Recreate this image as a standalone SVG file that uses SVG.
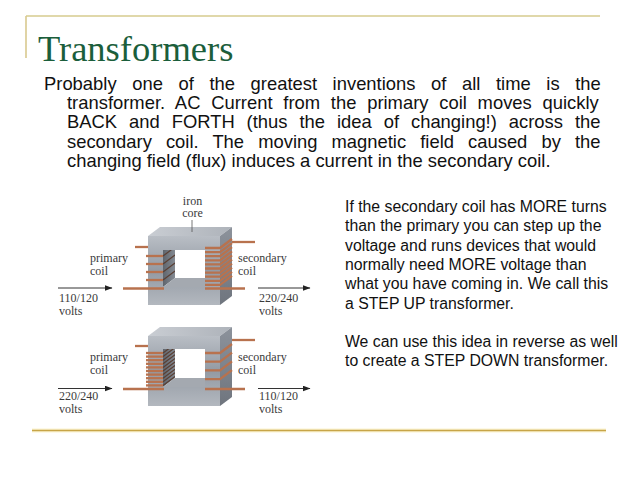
<svg xmlns="http://www.w3.org/2000/svg" width="638" height="479" viewBox="0 0 638 479">
<style>
.body{font-family:"Liberation Sans",Arial,sans-serif;font-size:18.4px;fill:#111}
.side{font-family:"Liberation Sans",Arial,sans-serif;font-size:15.8px;fill:#111}
.lab{font-family:"Liberation Serif","Times New Roman",serif;font-size:12px;fill:#3a3a3a}
.cu{stroke:#b8724e;stroke-width:2.3;fill:none}
.cud{stroke:#5a3f33;stroke-width:1.2;fill:none}
.arr{stroke:#333;stroke-width:1;fill:none}
</style>
<defs>
<linearGradient id="gFront" x1="0" y1="0" x2="0" y2="1">
<stop offset="0" stop-color="#b9bec5"/>
<stop offset="0.5" stop-color="#939aa3"/>
<stop offset="1" stop-color="#b3b8bf"/>
</linearGradient>
<linearGradient id="gTop" x1="0" y1="0" x2="1" y2="0">
<stop offset="0" stop-color="#c9cdd3"/>
<stop offset="1" stop-color="#aeb3ba"/>
</linearGradient>
<linearGradient id="gSide" x1="0" y1="0" x2="0" y2="1">
<stop offset="0" stop-color="#8c929b"/>
<stop offset="1" stop-color="#6f757e"/>
</linearGradient>
<linearGradient id="gWall" x1="0" y1="0" x2="1" y2="0">
<stop offset="0" stop-color="#5f656d"/>
<stop offset="1" stop-color="#858b93"/>
</linearGradient>
<marker id="ah" markerWidth="8" markerHeight="6" refX="7.5" refY="3" orient="auto" markerUnits="userSpaceOnUse">
<path d="M0,0 L8,3 L0,6 Z" fill="#222"/>
</marker>
<clipPath id="wallTop"><polygon points="163,250 175,250 175,278 163,287"/></clipPath>
<clipPath id="wallBot"><polygon points="163,349 175,349 175,378 163,387"/></clipPath>
</defs>
<rect width="638" height="479" fill="#fff"/>

<g id="frame">
<line x1="26" y1="16" x2="600" y2="16" stroke="#d6cb8e" stroke-width="1.6"/>
<line x1="26" y1="16" x2="26" y2="58" stroke="#d9c98f" stroke-width="1.6"/>
<line x1="32" y1="430.5" x2="606" y2="430.5" stroke="#fbf3cf" stroke-width="4"/>
<line x1="32" y1="430.5" x2="606" y2="430.5" stroke="#c7a548" stroke-width="1.6"/>
</g>

<g id="title">
<text x="38" y="61" font-family="'Liberation Serif','Times New Roman',serif" font-size="36.5" fill="#1b5e3b">Transformers</text>
</g>

<g id="body">
<text class="body" x="44" y="90" word-spacing="10.49">Probably one of the greatest inventions of all time is the</text>
<text class="body" x="67" y="109.2" word-spacing="5.66">transformer. AC Current from the primary coil moves quickly</text>
<text class="body" x="67" y="128.4" word-spacing="6.84">BACK and FORTH (thus the idea of changing!) across the</text>
<text class="body" x="67" y="147.6" word-spacing="8.97">secondary coil. The moving magnetic field caused by the</text>
<text class="body" x="67" y="166.8">changing field (flux) induces a current in the secondary coil.</text>
</g>

<g id="sidetext">
<text class="side" x="345" y="212">If the secondary coil has MORE turns</text>
<text class="side" x="345" y="231.3">than the primary you can step up the</text>
<text class="side" x="345" y="250.6">voltage and runs devices that would</text>
<text class="side" x="345" y="269.9">normally need MORE voltage than</text>
<text class="side" x="345" y="289.2">what you have coming in. We call this</text>
<text class="side" x="345" y="308.5">a STEP UP transformer.</text>
<text class="side" x="345" y="347">We can use this idea in reverse as well</text>
<text class="side" x="345" y="366.3">to create a STEP DOWN transformer.</text>
</g>

<g id="stepup">
<line class="cu" x1="135" y1="247" x2="150" y2="247"/>
<line class="cu" x1="230" y1="242" x2="255" y2="242"/>
<polygon points="148,236 160,227 232,227 220,236" fill="url(#gTop)"/>
<polygon points="220,236 232,227 232,296 220,305" fill="url(#gSide)"/>
<path d="M148,236 H220 V305 H148 Z M163,250 H205 V287 H163 Z" fill="url(#gFront)" fill-rule="evenodd"/>
<polygon points="163,250 175,250 175,278 163,287" fill="url(#gWall)"/>
<polygon points="163,287 175,278 205,278 205,287" fill="#a4a9b0"/>
<g clip-path="url(#wallTop)">
<line class="cud" x1="163" y1="256" x2="175" y2="247"/>
<line class="cud" x1="163" y1="264" x2="175" y2="255"/>
<line class="cud" x1="163" y1="272" x2="175" y2="263"/>
<line class="cud" x1="163" y1="280" x2="175" y2="271"/>
</g>
<line class="cu" x1="146" y1="256" x2="163" y2="256"/>
<line class="cu" x1="146" y1="264" x2="163" y2="264"/>
<line class="cu" x1="146" y1="272" x2="163" y2="272"/>
<line class="cu" x1="146" y1="280" x2="163" y2="280"/>
<line class="cu" x1="123" y1="288.5" x2="164" y2="288.5"/>
<g class="cu">
<path d="M205,248 H220 L232,239"/>
<path d="M205,252.1 H220 L232,243.1"/>
<path d="M205,256.2 H220 L232,247.2"/>
<path d="M205,260.3 H220 L232,251.3"/>
<path d="M205,264.4 H220 L232,255.4"/>
<path d="M205,268.5 H220 L232,259.5"/>
<path d="M205,272.6 H220 L232,263.6"/>
<path d="M205,276.7 H220 L232,267.7"/>
<path d="M205,280.8 H220 L232,271.8"/>
<path d="M205,284.9 H220 L232,275.9"/>
</g>
<line class="cu" x1="205" y1="288.5" x2="245" y2="288.5"/>
<line x1="192" y1="220" x2="192" y2="232" stroke="#555" stroke-width="0.8"/>
<text class="lab" x="192.5" y="204.5" text-anchor="middle">iron</text>
<text class="lab" x="192.5" y="217" text-anchor="middle">core</text>
<text class="lab" x="90" y="262">primary</text>
<text class="lab" x="90" y="274.5">coil</text>
<text class="lab" x="238" y="262">secondary</text>
<text class="lab" x="238" y="274.5">coil</text>
<text class="lab" x="59" y="302">110/120</text>
<text class="lab" x="59" y="314.5">volts</text>
<text class="lab" x="259" y="302">220/240</text>
<text class="lab" x="259" y="314.5">volts</text>
</g>

<g id="stepdown">
<line class="cu" x1="135" y1="346" x2="150" y2="346"/>
<line class="cu" x1="230" y1="340" x2="255" y2="340"/>
<polygon points="148,336 160,327 232,327 220,336" fill="url(#gTop)"/>
<polygon points="220,336 232,327 232,397 220,406" fill="url(#gSide)"/>
<path d="M148,336 H220 V406 H148 Z M163,349 H205 V387 H163 Z" fill="url(#gFront)" fill-rule="evenodd"/>
<polygon points="163,349 175,349 175,378 163,387" fill="url(#gWall)"/>
<polygon points="163,387 175,378 205,378 205,387" fill="#a4a9b0"/>
<g clip-path="url(#wallBot)" class="cud">
<line x1="163" y1="353" x2="175" y2="344"/>
<line x1="163" y1="356.6" x2="175" y2="347.6"/>
<line x1="163" y1="360.2" x2="175" y2="351.2"/>
<line x1="163" y1="363.8" x2="175" y2="354.8"/>
<line x1="163" y1="367.4" x2="175" y2="358.4"/>
<line x1="163" y1="371" x2="175" y2="362"/>
<line x1="163" y1="374.6" x2="175" y2="365.6"/>
<line x1="163" y1="378.2" x2="175" y2="369.2"/>
<line x1="163" y1="381.8" x2="175" y2="372.8"/>
<line x1="163" y1="385.4" x2="175" y2="376.4"/>
</g>
<g class="cu">
<line x1="146" y1="353" x2="163" y2="353"/>
<line x1="146" y1="356.6" x2="163" y2="356.6"/>
<line x1="146" y1="360.2" x2="163" y2="360.2"/>
<line x1="146" y1="363.8" x2="163" y2="363.8"/>
<line x1="146" y1="367.4" x2="163" y2="367.4"/>
<line x1="146" y1="371" x2="163" y2="371"/>
<line x1="146" y1="374.6" x2="163" y2="374.6"/>
<line x1="146" y1="378.2" x2="163" y2="378.2"/>
<line x1="146" y1="381.8" x2="163" y2="381.8"/>
<line x1="146" y1="385.4" x2="163" y2="385.4"/>
</g>
<line class="cu" x1="123" y1="389" x2="164" y2="389"/>
<g class="cu">
<path d="M205,353 H220 L232,344"/>
<path d="M205,361.7 H220 L232,352.7"/>
<path d="M205,370.4 H220 L232,361.4"/>
<path d="M205,379.1 H220 L232,370.1"/>
</g>
<line class="cu" x1="205" y1="389" x2="245" y2="389"/>
<text class="lab" x="90" y="361">primary</text>
<text class="lab" x="90" y="373.5">coil</text>
<text class="lab" x="238" y="361">secondary</text>
<text class="lab" x="238" y="373.5">coil</text>
<text class="lab" x="59" y="400">220/240</text>
<text class="lab" x="59" y="412.5">volts</text>
<text class="lab" x="259" y="400">110/120</text>
<text class="lab" x="259" y="412.5">volts</text>
</g>

<g id="connectors">
<line class="arr" x1="58" y1="288" x2="112" y2="288" marker-end="url(#ah)"/>
<line class="arr" x1="258" y1="288" x2="310" y2="288" marker-end="url(#ah)"/>
<line class="arr" x1="58" y1="388.5" x2="112" y2="388.5" marker-end="url(#ah)"/>
<line class="arr" x1="258" y1="388.5" x2="310" y2="388.5" marker-end="url(#ah)"/>
</g>
</svg>
